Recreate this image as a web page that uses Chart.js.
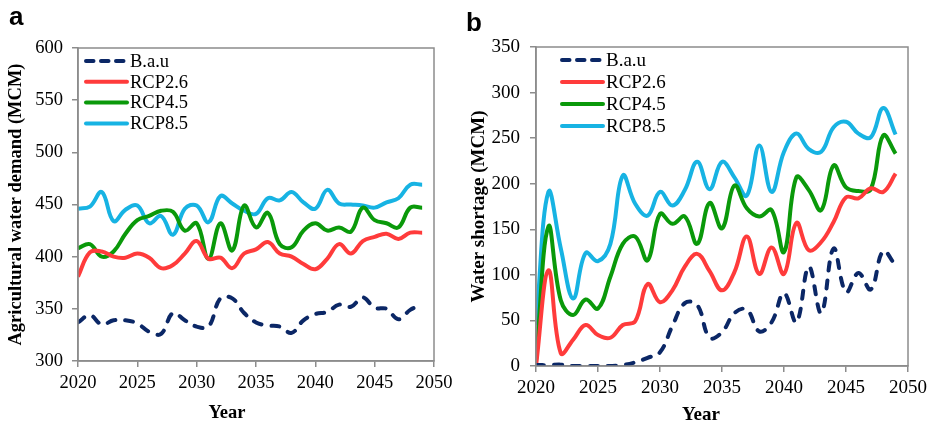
<!DOCTYPE html>
<html>
<head>
<meta charset="utf-8">
<script src="https://cdn.jsdelivr.net/npm/chart.js@4/dist/chart.umd.min.js"></script>
<style>
  body { margin: 0; background: #fff; }
  #wrap { position: relative; width: 935px; height: 426px; }
  #panelA { position: absolute; left: 0; top: 0; }
  #panelB { position: absolute; left: 460px; top: 0; }
</style>
</head>
<body>
<div id="wrap">
  <canvas id="panelA" width="467" height="426"></canvas>
  <canvas id="panelB" width="475" height="426"></canvas>
</div>
<script>
const years = [2020, 2021, 2022, 2023, 2024, 2025, 2026, 2027, 2028, 2029,
               2030, 2031, 2032, 2033, 2034, 2035, 2036, 2037, 2038, 2039,
               2040, 2041, 2042, 2043, 2044, 2045, 2046, 2047, 2048, 2049];
const seriesNames = ['B.a.u', 'RCP2.6', 'RCP4.5', 'RCP8.5'];
const seriesColors = ['#0b2766', '#ff3b3b', '#0a990a', '#17b3e3'];

// (a) agricultural water demand, MCM
const demandBau = [337, 344, 335, 339, 339, 336, 328, 326, 346, 339,
                   333, 333, 360, 360, 346, 337, 334, 333, 327, 339,
                   345, 347, 354, 352, 361, 351, 350, 340, 349, 354];
const demandRcp26 = [381, 404, 405, 400, 399, 403, 399, 389, 392, 403,
                     415, 398, 399, 389, 403, 407, 414, 403, 400, 393,
                     388, 398, 412, 403, 415, 419, 422, 417, 423, 423];
const demandRcp45 = [408, 412, 400, 405, 422, 435, 439, 444, 443, 425,
                     432, 398, 432, 406, 449, 428, 442, 412, 409, 425,
                     432, 425, 428, 424, 447, 435, 432, 428, 447, 447];
const demandRcp85 = [446, 448, 462, 434, 445, 449, 432, 439, 421, 446,
                     449, 433, 458, 451, 444, 441, 456, 454, 462, 452,
                     446, 464, 451, 450, 449, 447, 452, 456, 469, 469];

// (b) water shortage, MCM
const shortageBau = [1, 1, 1.5, 0, 0, 0, 0, 1, 4, 9,
                     15, 44, 69, 67, 31, 37, 58, 62, 38, 48,
                     80, 48, 109, 58, 129, 81, 102, 84, 126, 110];
const shortageRcp26 = [0, 105, 14, 29, 45, 34, 31, 45, 49, 90,
                       70, 83, 109, 123, 104, 83, 103, 142, 101, 130,
                       101, 157, 127, 136, 158, 185, 184, 195, 191, 211];
const shortageRcp45 = [5, 153, 72, 56, 73, 63, 98, 134, 142, 116,
                       167, 156, 164, 134, 179, 151, 198, 173, 164, 171,
                       125, 207, 193, 171, 220, 196, 192, 194, 253, 233];
const shortageRcp85 = [45, 191, 129, 74, 124, 115, 134, 209, 178, 165,
                       191, 176, 193, 224, 194, 224, 207, 187, 242, 191,
                       235, 255, 238, 235, 262, 268, 255, 251, 283, 254];

const serif = '"Liberation Serif", "Times New Roman", serif';
const axisGray = '#8c8c8c';
Chart.defaults.font.family = serif;
Chart.defaults.color = '#000';

function makeDatasets(series) {
  return series.map((values, i) => ({
    label: seriesNames[i],
    data: years.map((yr, k) => ({ x: yr, y: values[k] })),
    borderColor: seriesColors[i],
    backgroundColor: seriesColors[i],
    borderWidth: 4,
    borderDash: i === 0 ? [8, 10] : [],
    borderCapStyle: i === 0 ? 'round' : 'butt',
    borderJoinStyle: 'round',
    pointRadius: 0,
    tension: 0.4,
    fill: false
  }));
}

// plot frame, in-plot legend, x title and panel letter
const panelDecor = {
  id: 'panelDecor',
  afterDraw(chart, args, opts) {
    const { ctx, chartArea: a } = chart;
    ctx.save();
    ctx.strokeStyle = axisGray;
    ctx.lineWidth = 1.5;
    ctx.strokeRect(a.left, a.top, a.right - a.left, a.bottom - a.top);

    ctx.font = `${opts.fontSize}px ${serif}`;
    ctx.textBaseline = 'middle';
    ctx.fillStyle = '#000';
    chart.data.datasets.forEach((ds, i) => {
      const y = a.top + opts.legendTop + i * opts.legendGap;
      const x0 = a.left + opts.legendLeft;
      ctx.beginPath();
      ctx.strokeStyle = ds.borderColor;
      ctx.lineWidth = ds.borderWidth;
      ctx.lineCap = 'round';
      ctx.setLineDash(ds.borderDash.length ? [7.5, 7.5] : []);
      ctx.moveTo(x0 + 2, y);
      ctx.lineTo(x0 + 43, y);
      ctx.stroke();
      ctx.setLineDash([]);
      ctx.fillText(ds.label, x0 + 46, y + 1);
    });

    ctx.font = `bold ${opts.fontSize}px ${serif}`;
    ctx.textAlign = 'center';
    ctx.textBaseline = 'alphabetic';
    ctx.fillText('Year', (a.left + a.right) / 2 + opts.titleShift, opts.titleBaseline);

    ctx.font = 'bold 26px "Liberation Sans", Arial, sans-serif';
    ctx.textAlign = 'left';
    ctx.fillText(opts.letter, opts.letterX, opts.letterY);
    ctx.restore();
  }
};

function makeOptions(cfg) {
  const tickFont = { family: serif, size: cfg.fontSize };
  return {
    responsive: false,
    animation: false,
    layout: { padding: cfg.padding },
    plugins: {
      legend: { display: false },
      tooltip: { enabled: false },
      panelDecor: cfg.decor
    },
    scales: {
      x: {
        type: 'linear',
        min: 2020,
        max: 2050,
        afterFit: s => { s.height = cfg.xHeight; },
        ticks: { stepSize: 5, color: '#000', padding: 5, font: tickFont,
                 callback: v => String(v) },
        grid: { drawOnChartArea: false, drawTicks: true, tickLength: 6, color: axisGray, lineWidth: 1.5 },
        border: { color: axisGray, width: 1.5 }
      },
      y: {
        min: cfg.yMin,
        max: cfg.yMax,
        afterFit: s => { s.width = cfg.yWidth; },
        ticks: { stepSize: 50, color: '#000', padding: cfg.yPad, font: tickFont },
        grid: { drawOnChartArea: false, drawTicks: true, tickLength: 6, color: axisGray, lineWidth: 1.5 },
        border: { color: axisGray, width: 1.5 },
        title: { display: true, text: cfg.yTitle, color: '#000',
                 padding: { top: cfg.yTitlePad, bottom: 0 },
                 font: { family: serif, size: cfg.fontSize, weight: 'bold' } }
      }
    }
  };
}

new Chart(document.getElementById('panelA'), {
  type: 'line',
  data: { datasets: makeDatasets([demandBau, demandRcp26, demandRcp45, demandRcp85]) },
  options: makeOptions({
    padding: { left: 0, right: 33, top: 48, bottom: 0 },
    xHeight: 65, yWidth: 78, yPad: 9, yTitlePad: 5,
    yMin: 300, yMax: 600, fontSize: 18.5,
    yTitle: 'Agricultural water demand (MCM)',
    decor: { fontSize: 18.5, legendLeft: 6, legendTop: 13, legendGap: 20.8,
             titleShift: -29, titleBaseline: 418, letter: 'a', letterX: 9, letterY: 25 }
  }),
  plugins: [panelDecor]
});

new Chart(document.getElementById('panelB'), {
  type: 'line',
  data: { datasets: makeDatasets([shortageBau, shortageRcp26, shortageRcp45, shortageRcp85]) },
  options: makeOptions({
    padding: { left: 0, right: 27, top: 47, bottom: 0 },
    xHeight: 60, yWidth: 76, yPad: 10, yTitlePad: 8,
    yMin: 0, yMax: 350, fontSize: 19,
    yTitle: 'Water shortage (MCM)',
    decor: { fontSize: 19, legendLeft: 24, legendTop: 13, legendGap: 22,
             titleShift: -21, titleBaseline: 420, letter: 'b', letterX: 6, letterY: 31 }
  }),
  plugins: [panelDecor]
});
</script>
</body>
</html>
